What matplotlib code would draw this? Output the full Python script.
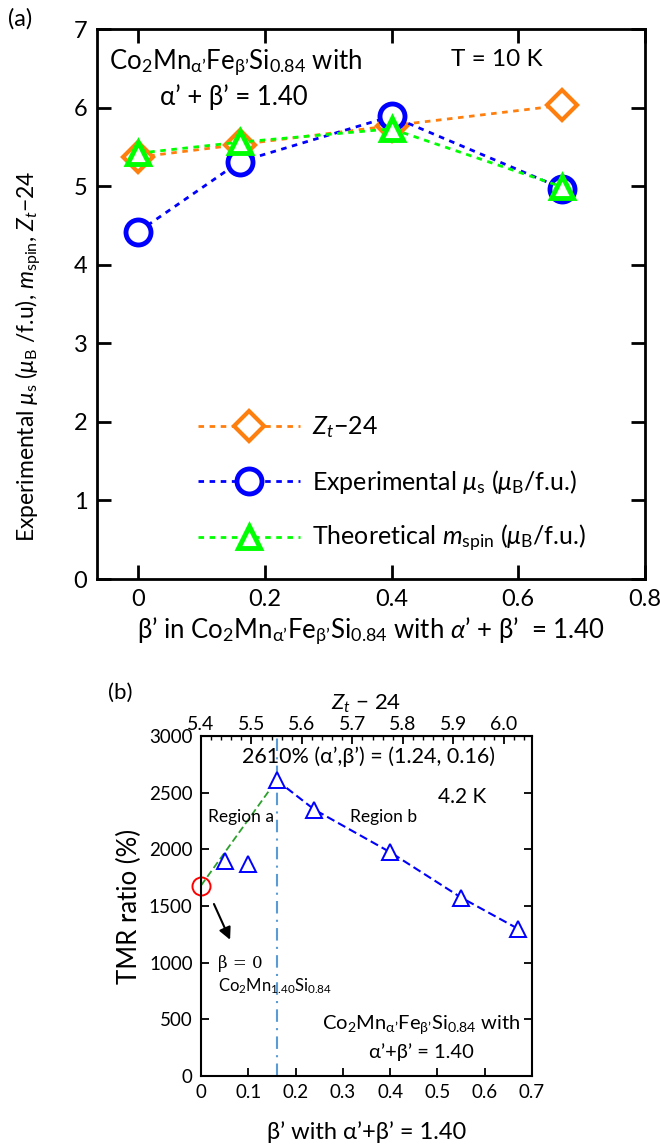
"""
Co2Mn(α')Fe(β')Si0.84 膜：磁矩与 TMR 比
(a) 实验磁矩、理论自旋磁矩和 Zt-24 随 β' 的变化
(b) 4.2 K 下 TMR 比随 β' 的变化
"""

import matplotlib
matplotlib.use("Agg")
import matplotlib.pyplot as plt

plt.rcParams["font.family"] = ["Lato", "DejaVu Sans"]
plt.rcParams["mathtext.fontset"] = "custom"
plt.rcParams["mathtext.rm"] = "Lato"
plt.rcParams["mathtext.it"] = "Lato:italic"
plt.rcParams["mathtext.bf"] = "Lato:bold"

# ---- (a) 数据 ----
beta_a = [0.0, 0.16, 0.40, 0.67]
zt_minus_24 = [5.37, 5.53, 5.77, 6.03]
mu_exp = [4.42, 5.31, 5.89, 4.97]
m_spin = [5.42, 5.56, 5.73, 4.99]

# ---- (b) 数据 ----
beta_ref = [0.0]
tmr_ref = [1680]
beta_a_region = [0.0, 0.16]
tmr_a_region = [1680, 2610]
beta_tri = [0.05, 0.10, 0.16, 0.24, 0.40, 0.55, 0.67]
tmr_tri = [1900, 1870, 2610, 2350, 1975, 1575, 1300]
beta_b_region = [0.16, 0.24, 0.40, 0.55, 0.67]
tmr_b_region = [2610, 2350, 1975, 1575, 1300]
beta_peak = 0.16

formula = r"Co$_2$Mn$_{\mathrm{α’}}$Fe$_{\mathrm{β’}}$Si$_{0.84}$"

fig = plt.figure(figsize=(6.6, 11.48), dpi=100)

# ================= (a) =================
ax = fig.add_axes([0.147, 0.4956, 0.830, 0.4791])
ax.plot(beta_a, zt_minus_24, ls=(0, (2, 2)), lw=2, color="#FF7F0E",
        marker="D", ms=15, mew=3, mfc="white", mec="#FF7F0E",
        label=r"$Z_t$−24")
ax.plot(beta_a, mu_exp, ls=(0, (2, 2)), lw=2, color="#0000FF",
        marker="o", ms=18, mew=3.5, mfc="white", mec="#0000FF",
        label=r"Experimental $μ_\mathrm{s}$ ($μ_\mathrm{B}$/f.u.)")
ax.plot(beta_a, m_spin, ls=(0, (2, 2)), lw=2, color="#00FF00",
        marker="^", ms=16, mew=3.5, mfc="white", mec="#00FF00",
        label=r"Theoretical $m_\mathrm{spin}$ ($μ_\mathrm{B}$/f.u.)")

ax.set_xlim(-0.065, 0.8)
ax.set_ylim(0, 7)
ax.set_xticks([0, 0.2, 0.4, 0.6, 0.8])
ax.set_xticklabels(["0", "0.2", "0.4", "0.6", "0.8"])
ax.set_yticks(range(8))
ax.tick_params(direction="in", length=10, width=2, labelsize=17,
               top=True, right=True, pad=7)
for sp in ax.spines.values():
    sp.set_linewidth(2)

ax.set_xlabel("β’ in " + formula + r" with $α’$ + β’  = 1.40", fontsize=18.5,
              labelpad=4)
fig.text(0.042, 1 - 356 / 1148,
         r"Experimental $μ_\mathrm{s}$ ($μ_\mathrm{B}$ /f.u), $m_\mathrm{spin}$, $Z_t$−24",
         rotation=90, ha="center", va="center", fontsize=16.5)

ax.text(0.253, 0.938, formula + " with", transform=ax.transAxes,
        ha="center", va="center", fontsize=18.5)
ax.text(0.249, 0.876, "α’ + β’ = 1.40", transform=ax.transAxes,
        ha="center", va="center", fontsize=18.5)
ax.text(0.73, 0.944, "T = 10 K", transform=ax.transAxes,
        ha="center", va="center", fontsize=17.5)

leg = ax.legend(loc="lower left", bbox_to_anchor=(0.143, 0.004),
                frameon=False, fontsize=18, handlelength=4.1,
                labelspacing=1.1, handletextpad=0.45)

fig.text(0.03, 0.984, "(a)", ha="center", va="center", fontsize=17)

# ================= (b) =================
bx = fig.add_axes([0.3045, 0.0627, 0.5015, 0.2962])
bx.axvline(beta_peak, color="#5B9BD5", lw=1.5, ls=(0, (6, 3, 1, 3)))
bx.plot(beta_a_region, tmr_a_region, ls=(0, (4, 2)), lw=1.3, color="#2CA02C")
bx.plot(beta_b_region, tmr_b_region, ls=(0, (4, 2)), lw=1.5, color="#0000FF")
bx.plot(beta_tri, tmr_tri, ls="none", marker="^", ms=11, mew=1.4,
        mfc="white", mec="#0000FF")
bx.plot(beta_ref, tmr_ref, ls="none", marker="o", ms=13, mew=1.4,
        mfc="none", mec="#FF0000", clip_on=False)

bx.set_xlim(0, 0.7)
bx.set_ylim(0, 3000)
bx.set_xticks([0, 0.1, 0.2, 0.3, 0.4, 0.5, 0.6, 0.7])
bx.set_xticklabels(["0", "0.1", "0.2", "0.3", "0.4", "0.5", "0.6", "0.7"])
bx.set_yticks(range(0, 3001, 500))
bx.tick_params(direction="in", length=6, width=1.3, labelsize=13.5,
               right=True, pad=6)
for sp in bx.spines.values():
    sp.set_linewidth(1.5)

bx.set_xlabel("β’ with α’+β’ = 1.40", fontsize=17, labelpad=14)
bx.set_ylabel("TMR ratio (%)", fontsize=18.5, labelpad=5)

# 顶部 Zt-24 坐标轴
zt_scale = 0.937
top = bx.secondary_xaxis("top", functions=(lambda b: 5.4 + zt_scale * b,
                                           lambda z: (z - 5.4) / zt_scale))
top.set_xticks([5.4, 5.5, 5.6, 5.7, 5.8, 5.9, 6.0])
top.set_xticklabels(["5.4", "5.5", "5.6", "5.7", "5.8", "5.9", "6.0"])
top.minorticks_on()
top.tick_params(which="major", direction="in", length=6, width=1.3,
                labelsize=14, pad=2)
top.tick_params(which="minor", direction="in", length=3, width=1)
top.set_xlabel(r"$Z_t$ − 24", fontsize=16, labelpad=5)

bx.text(0.124, 0.94, "2610% (α’,β’) = (1.24, 0.16)", transform=bx.transAxes,
        ha="left", va="center", fontsize=15.5)
bx.text(0.79, 0.82, "4.2 K", transform=bx.transAxes,
        ha="center", va="center", fontsize=15)
bx.text(0.02, 0.761, "Region a", transform=bx.transAxes,
        ha="left", va="center", fontsize=12.5)
bx.text(0.45, 0.761, "Region b", transform=bx.transAxes,
        ha="left", va="center", fontsize=12.5)
bx.text(0.05, 0.33, "β = 0", transform=bx.transAxes,
        ha="left", va="center", fontsize=12, family="DejaVu Serif")
bx.text(0.05, 0.265, r"Co$_2$Mn$_{1.40}$Si$_{0.84}$", transform=bx.transAxes,
        ha="left", va="center", fontsize=12)
bx.annotate("", xy=(0.064, 1180), xytext=(0.025, 1540),
            arrowprops=dict(arrowstyle="-|>", color="black", lw=1.5,
                            mutation_scale=18))
bx.text(0.665, 0.15, formula + " with", transform=bx.transAxes,
        ha="center", va="center", fontsize=14.5)
bx.text(0.665, 0.07, "α’+β’ = 1.40", transform=bx.transAxes,
        ha="center", va="center", fontsize=14.5)

fig.text(120 / 660, 1 - 693 / 1148, "(b)", ha="center", va="center",
         fontsize=16)

fig.savefig("out.png", dpi=100)
